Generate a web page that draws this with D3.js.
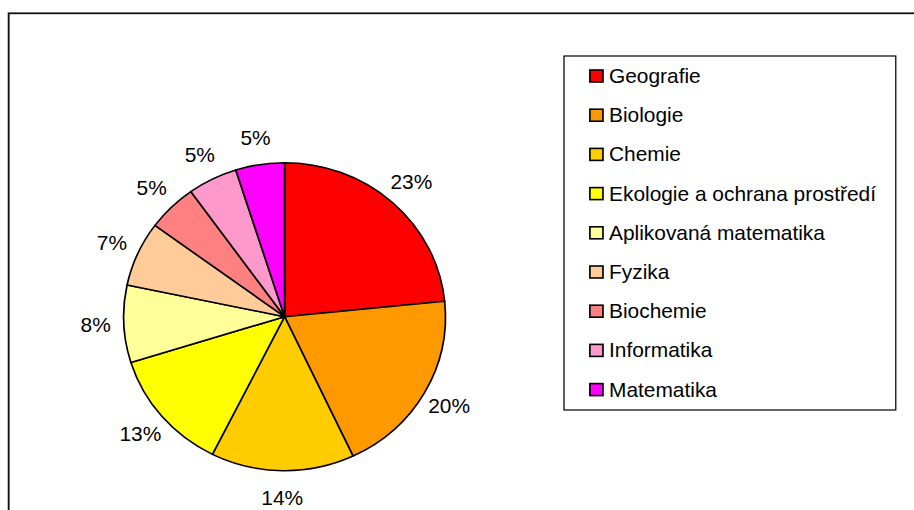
<!DOCTYPE html>
<html>
<head>
<meta charset="utf-8">
<script src="https://cdn.jsdelivr.net/npm/d3@7"></script>
<style>
  html, body { margin: 0; padding: 0; background: #fff; }
  svg { display: block; }
  text { font-family: "Liberation Sans", Arial, sans-serif; fill: #000; }
</style>
</head>
<body>
<script>
// ---- data ----
const categories = ["Geografie", "Biologie", "Chemie", "Ekologie a ochrana prostředí",
  "Aplikovaná matematika", "Fyzika", "Biochemie", "Informatika", "Matematika"];
const shares = [23.4, 19.6, 14.4, 12.8, 8.1, 6.8, 5.0, 5.0, 4.9];
const colors = ["#FF0000", "#FF9900", "#FFCC00", "#FFFF00", "#FFFF99",
  "#FFCC99", "#FF8080", "#FF99CC", "#FF00FF"];

// ---- layout ----
const W = 914, H = 510, sx = 1.045;
const svg = d3.select("body").append("svg").attr("width", W).attr("height", H);
const root = svg.append("g").attr("transform", `scale(${sx},1)`);

// outer chart frame (extends past the visible area)
root.append("rect")
  .attr("x", 8.3).attr("y", 13.3)
  .attr("width", 900).attr("height", 600)
  .attr("fill", "none").attr("stroke", "#111").attr("stroke-width", 1.8);

const cx = 272.3, cy = 316.7, r = 154;
const total = d3.sum(shares);
const pie = d3.pie().sort(null).value(d => d)(shares);
const arc = d3.arc().innerRadius(0).outerRadius(r);
const labelArc = d3.arc().innerRadius(181).outerRadius(181);

const gPie = root.append("g").attr("transform", `translate(${cx},${cy})`);
gPie.selectAll("path").data(pie).join("path")
  .attr("d", arc)
  .attr("fill", (d, i) => colors[i])
  .attr("stroke", "#000").attr("stroke-width", 1.6)
  .attr("stroke-linejoin", "round");

gPie.selectAll("text.lbl").data(pie).join("text")
  .attr("class", "lbl")
  .attr("x", d => labelArc.centroid(d)[0])
  .attr("y", d => labelArc.centroid(d)[1])
  .attr("dy", "0.35em")
  .attr("text-anchor", "middle")
  .attr("font-size", 20)
  .text(d => Math.round(d.value / total * 100) + "%");

// ---- legend ----
const lx0 = 539.7, lx1 = 857.2, ly0 = 56, ly1 = 410;
root.append("rect")
  .attr("x", lx0).attr("y", ly0)
  .attr("width", lx1 - lx0).attr("height", ly1 - ly0)
  .attr("fill", "#fff").attr("stroke", "#000").attr("stroke-width", 1.2);

const rowY = d3.scalePoint().domain(categories).range([76, 389.6]);
const gl = root.append("g");
const items = gl.selectAll("g").data(categories).join("g")
  .attr("transform", d => `translate(0,${rowY(d)})`);
items.append("rect")
  .attr("x", 564.5).attr("y", -6)
  .attr("width", 12.5).attr("height", 12)
  .attr("fill", (d, i) => colors[i])
  .attr("stroke", "#000").attr("stroke-width", 1.6);
items.append("text")
  .attr("x", 582.8).attr("y", 0).attr("dy", "0.35em")
  .attr("font-size", 20)
  .text(d => d);
</script>
</body>
</html>
